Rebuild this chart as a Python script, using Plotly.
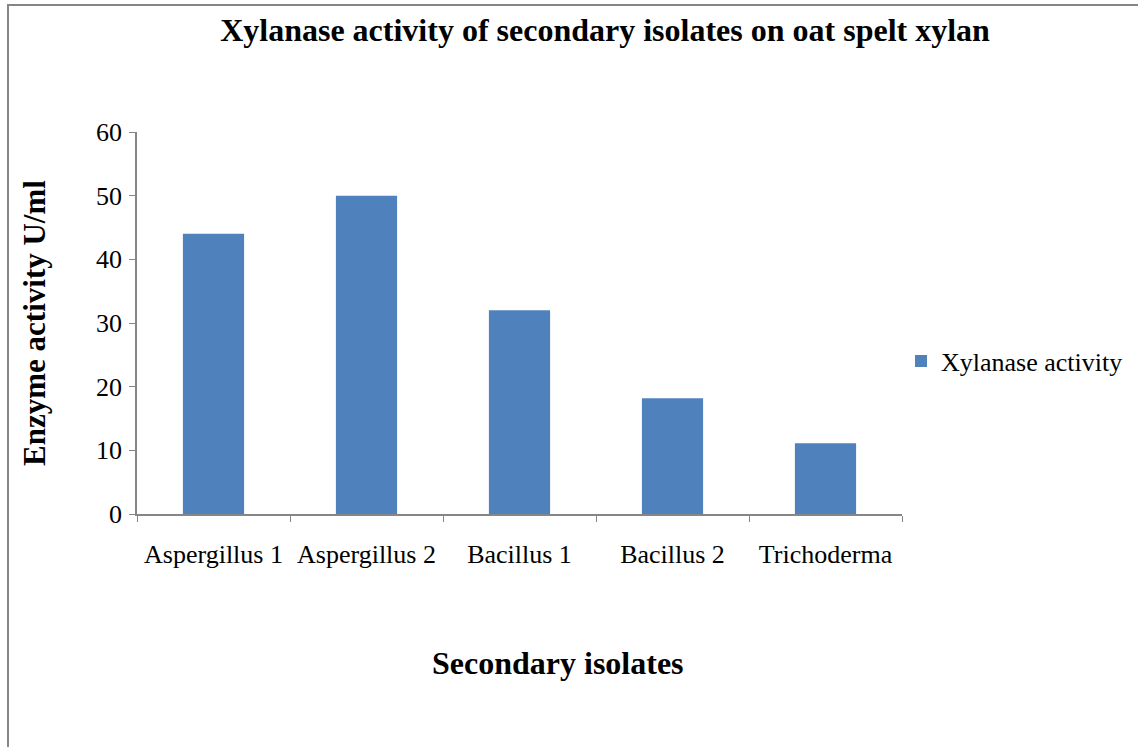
import plotly.graph_objects as go

categories = ["Aspergillus 1", "Aspergillus 2", "Bacillus 1", "Bacillus 2", "Trichoderma"]
activity = [44.0, 50.0, 32.0, 18.2, 11.1]
series_name = "Xylanase activity"
y_ticks = [0, 10, 20, 30, 40, 50, 60]

W, H = 1138, 747
L, R, T, B = 137, 236, 132, 233
pw, ph = W - L - R, H - T - B

def px_x(x):
    return (x - L) / pw

def px_y(y):
    return (H - B - y) / ph

serif = "Liberation Serif, Times New Roman, serif"
axis_col = "#868686"

fig = go.Figure()
fig.add_trace(go.Bar(x=categories, y=activity, name=series_name,
                     marker=dict(color="#4F81BD", line=dict(width=0))))

fig.update_layout(
    width=W, height=H,
    margin=dict(l=L, r=R, t=T, b=B, autoexpand=False),
    paper_bgcolor="white", plot_bgcolor="white",
    font=dict(family=serif, color="black", size=26),
    bargap=0.6,
    showlegend=True,
    legend=dict(x=px_x(901), y=px_y(361), xanchor="left", yanchor="middle",
                font=dict(size=26, family=serif), itemwidth=30,
                bgcolor="rgba(0,0,0,0)"),
    title=dict(text="<b>Xylanase activity of secondary isolates on oat spelt xylan</b>",
               xref="container", x=605 / W, xanchor="center",
               yref="container", y=1 - 30 / H, yanchor="middle",
               font=dict(size=32, family=serif)),
    xaxis=dict(showline=True, linecolor=axis_col, linewidth=1.5,
               ticks="outside", tickson="boundaries", ticklen=6, tickcolor=axis_col,
               tickfont=dict(size=26, family=serif), ticklabelstandoff=16),
    yaxis=dict(range=[0, 60], tickvals=y_ticks, showgrid=False, zeroline=False,
               showline=True, linecolor=axis_col, linewidth=1.5,
               ticks="outside", ticklen=6, tickcolor=axis_col,
               tickfont=dict(size=26, family=serif), ticklabelstandoff=2,
               title=dict(text="<b>Enzyme activity U/ml</b>", font=dict(size=31, family=serif),
                          standoff=41)),
    annotations=[dict(text="<b>Secondary isolates</b>", xref="paper", yref="paper",
                      x=px_x(558), y=px_y(663), xanchor="center", yanchor="middle",
                      showarrow=False, font=dict(size=32, family=serif))],
    shapes=[
        dict(type="line", xref="paper", yref="paper",
             x0=px_x(8), x1=px_x(8), y0=px_y(H + 20), y1=px_y(4),
             line=dict(color=axis_col, width=2), layer="above"),
        dict(type="line", xref="paper", yref="paper",
             x0=px_x(7), x1=px_x(W + 20), y0=px_y(5), y1=px_y(5),
             line=dict(color=axis_col, width=2), layer="above"),
    ],
)

fig.write_html("out.html", config={"displayModeBar": False},
               post_script="document.body.style.margin='0';")
